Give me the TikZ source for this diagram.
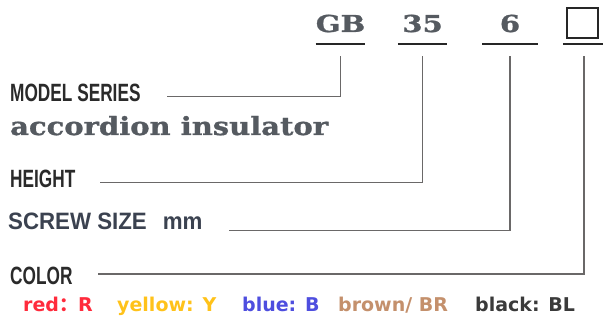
\documentclass[tikz,border=0pt]{standalone}
\usepackage{fontspec}
\usepackage{xcolor}
\usetikzlibrary{
	positioning
}
\setmainfont{Liberation Sans}
\newfontfamily\condfont[FakeStretch=0.69]{Liberation Sans}
\newfontfamily\screwfont[FakeStretch=0.94]{Liberation Sans}
\newfontfamily\slabfont[FakeStretch=1.25,FakeBold=1.2]{DejaVu Serif}
\newfontfamily\slabtext[FakeStretch=1.16,FakeBold=1.2]{DejaVu Serif}
\newfontfamily\rowfont{DejaVu Sans}
\newfontfamily\cjk{Noto Sans CJK SC}

\definecolor{leadgray}{HTML}{6A6868}
\definecolor{codegray}{HTML}{555A60}
\definecolor{labelblack}{HTML}{2A2A2A}
\definecolor{screwgray}{HTML}{3B4250}
\definecolor{colred}{HTML}{FF2B3C}
\definecolor{colyellow}{HTML}{FFC21A}
\definecolor{colblue}{HTML}{4E4EDF}
\definecolor{colbrown}{HTML}{C4906C}
\definecolor{colblack}{HTML}{3A3A3A}

\begin{document}
\begin{tikzpicture}[
		x=1pt, y=-1pt,
		code/.style={font=\slabfont\bfseries\fontsize{23.3}{24}\selectfont,
			text=codegray, inner sep=0pt, text depth=12pt, anchor=base},
		uline/.style={draw=black!85, line width=2.2pt},
		lead/.style={draw=leadgray, line width=1.6pt},
		lbl/.style={font=\condfont\bfseries\fontsize{25}{26}\selectfont,
			text=labelblack, inner sep=0pt, anchor=base west},
		colrow/.style={font=\rowfont\bfseries\fontsize{19}{20}\selectfont,
			inner sep=0pt, anchor=base west}
	]
	\useasboundingbox (0,0) rectangle (603,321);

	% code boxes on top
	\node[code, minimum width=49pt] (gb)  at (340.5,32) {GB};
	\node[code, minimum width=49pt] (ht)  at (422.5,32) {35};
	\node[code, minimum width=55pt] (scr) at (510,32)   {6};
	\node[code, minimum width=42pt] (col) at (584,32)   {};
	\node[draw=black!85, line width=1.5pt, minimum width=31pt, minimum height=30pt,
		inner sep=0pt] (colbox) at (582.5,23) {};

	\foreach \c in {gb,ht,scr,col}
		\draw[uline] (\c.south west) -- (\c.south east);

	% labels
	\node[lbl] (model) at (10,102) {MODEL SERIES};
	\node[anchor=base west, inner sep=0pt, text=codegray,
		font=\slabtext\bfseries\fontsize{25}{26}\selectfont] (series) at (10,135) {accordion insulator};
	\node[lbl] (height) at (10,187) {HEIGHT};
	\node[anchor=base west, inner sep=0pt, text=screwgray,
		font=\screwfont\bfseries\fontsize{23.7}{24}\selectfont] (screw) at (8,229) {SCREW SIZE\hspace{16pt}mm};
	\node[lbl] (color) at (10,284) {COLOR};

	% colour codes
	\node[colrow, text=colred]    (red)    at (23,311)  {red{\cjk ：}R};
	\node[colrow, text=colyellow] (yellow) at (117,311) {yellow: Y};
	\node[colrow, text=colblue]   (blue)   at (242,311) {blue: B};
	\node[colrow, text=colbrown]  (brown)  at (338,311) {brown/ BR};
	\node[colrow, text=colblack]  (black)  at (475,311) {black: BL};

	% leaders
	\draw[lead] ([yshift=-12pt]gb.south)  |- ([xshift=26pt,yshift=-3pt]model.east);
	\draw[lead] ([yshift=-12pt]ht.south)  |- ([xshift=24pt,yshift=-4pt]height.east);
	\draw[lead] ([yshift=-12pt]scr.south) |- ([xshift=26pt,yshift=-9.5pt]screw.east);
	\draw[lead] ([yshift=-12pt]col.south) |- ([xshift=25pt,yshift=1.5pt]color.east);
\end{tikzpicture}
\end{document}
